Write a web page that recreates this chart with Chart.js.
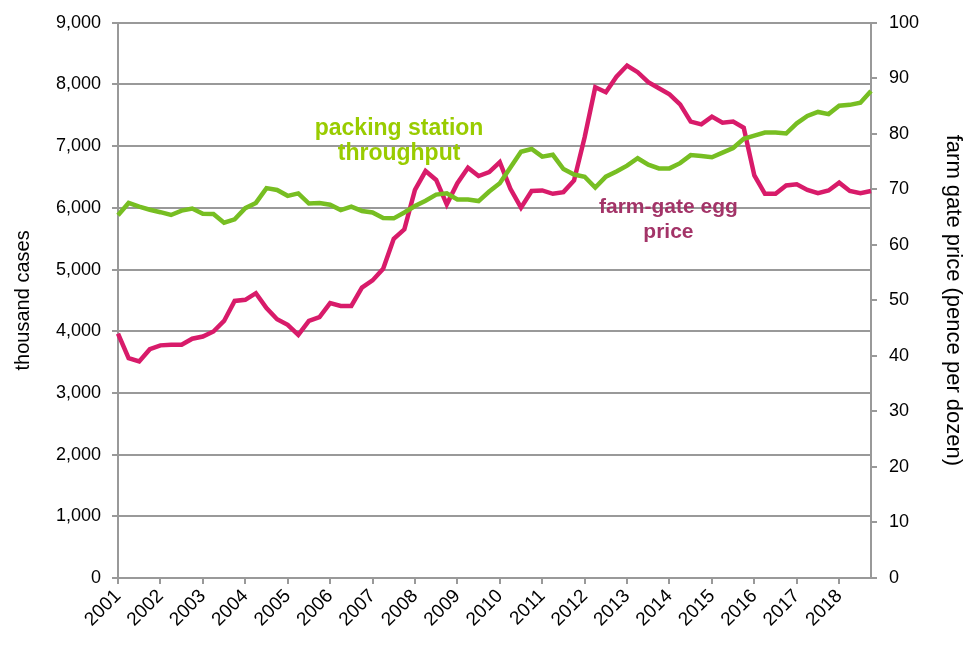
<!DOCTYPE html>
<html>
<head>
<meta charset="utf-8">
<script src="https://cdn.jsdelivr.net/npm/chart.js@4/dist/chart.umd.min.js"></script>
<style>
  html, body { margin: 0; padding: 0; background: #fff; }
  #wrap { width: 966px; height: 646px; position: relative; }
</style>
</head>
<body>
<div id="wrap"><canvas id="eggChart" width="966" height="646"></canvas></div>
<script>
// Years on the axis, data is quarterly (Q1 2001 - Q4 2018)
const years = ['2001', '2002', '2003', '2004', '2005', '2006', '2007', '2008', '2009',
               '2010', '2011', '2012', '2013', '2014', '2015', '2016', '2017', '2018'];
const quarterNames = ['Q1', 'Q2', 'Q3', 'Q4'];

// Packing station throughput (thousand cases)
const throughput = [
    5880, 6080, 6020, 5970, 5930, 5885, 5955, 5990, 5905, 5900, 5760, 5815,
    5995, 6080, 6320, 6290, 6195, 6235, 6070, 6080, 6050, 5965, 6020, 5950,
    5925, 5835, 5830, 5925, 6030, 6115, 6215, 6235, 6135, 6135, 6110, 6265,
    6400, 6655, 6910, 6955, 6830, 6860, 6630, 6540, 6505, 6330, 6505, 6590,
    6685, 6805, 6700, 6640, 6640, 6725, 6855, 6840, 6820, 6895, 6970, 7120,
    7170, 7220, 7220, 7205, 7370, 7490, 7555, 7520, 7655, 7670, 7705, 7895
];

// Farm-gate egg price (pence per dozen)
const eggPrice = [
    44.0, 39.6, 39.0, 41.2, 41.9, 42.0, 42.0, 43.1, 43.5, 44.4, 46.3, 49.9,
    50.1, 51.3, 48.6, 46.6, 45.6, 43.8, 46.3, 47.0, 49.5, 49.0, 49.0, 52.3,
    53.6, 55.7, 61.1, 62.8, 69.9, 73.3, 71.7, 67.3, 71.1, 73.9, 72.4, 73.1,
    74.9, 70.1, 66.7, 69.7, 69.8, 69.2, 69.5, 71.6, 79.4, 88.4, 87.5, 90.3,
    92.3, 91.1, 89.3, 88.2, 87.1, 85.3, 82.2, 81.7, 83.1, 82.0, 82.2, 81.1,
    72.5, 69.2, 69.2, 70.7, 70.9, 69.9, 69.3, 69.8, 71.2, 69.7, 69.3, 69.7
];

// Quarter labels built from the years
const quarters = [];
years.forEach(function(y) {
    quarterNames.forEach(function(q) { quarters.push(y + ' ' + q); });
});

const GRID = '#999999';
const FONT = "'Liberation Sans', Arial, sans-serif";

// Inline series labels, anchored in data coordinates
const seriesLabels = {
    id: 'seriesLabels',
    afterDraw(chart) {
        const ctx = chart.ctx;
        const x = chart.scales.x, yL = chart.scales.y, yR = chart.scales.y2;
        ctx.save();
        ctx.textAlign = 'center';
        ctx.textBaseline = 'middle';
        ctx.font = 'bold 23px ' + FONT;
        ctx.fillStyle = '#99cc00';
        ctx.fillText('packing station', x.getPixelForValue(26.5), yL.getPixelForValue(7280));
        ctx.fillText('throughput', x.getPixelForValue(26.5), yL.getPixelForValue(6875));
        ctx.font = 'bold 21px ' + FONT;
        ctx.fillStyle = '#a33468';
        ctx.fillText('farm-gate egg', x.getPixelForValue(51.9), yR.getPixelForValue(66.7));
        ctx.fillText('price', x.getPixelForValue(51.9), yR.getPixelForValue(62.2));
        ctx.restore();
    }
};

document.addEventListener('DOMContentLoaded', function() {
    const ctx = document.getElementById('eggChart').getContext('2d');
    new Chart(ctx, {
        type: 'line',
        data: {
            labels: quarters,
            datasets: [{
                label: 'packing station throughput',
                data: throughput,
                yAxisID: 'y',
                borderColor: '#77be22',
                borderWidth: 4.5,
                pointRadius: 0,
                tension: 0,
                fill: false
            }, {
                label: 'farm-gate egg price',
                data: eggPrice,
                yAxisID: 'y2',
                borderColor: '#d81b6a',
                borderWidth: 4.5,
                pointRadius: 0,
                tension: 0,
                fill: false
            }]
        },
        options: {
            responsive: false,
            animation: false,
            layout: { padding: { left: 0, right: 0, top: 21, bottom: 0 } },
            plugins: {
                legend: { display: false },
                tooltip: { enabled: false }
            },
            scales: {
                x: {
                    offset: false,
                    afterFit: function(s) { s.height = 68; },
                    grid: { drawOnChartArea: false, color: GRID, lineWidth: 2, tickLength: 6 },
                    border: { color: GRID, width: 2 },
                    ticks: {
                        autoSkip: false,
                        maxRotation: 45,
                        minRotation: 45,
                        padding: 1,
                        color: '#000',
                        font: { family: FONT, size: 19 },
                        callback: function(val, idx) {
                            return idx % 4 === 0 ? years[idx / 4] : null;
                        }
                    }
                },
                y: {
                    position: 'left',
                    min: 0,
                    max: 9000,
                    afterFit: function(s) { s.width = 118; },
                    grid: { color: GRID, lineWidth: 2, tickLength: 6 },
                    border: { color: GRID, width: 2 },
                    ticks: {
                        stepSize: 1000,
                        padding: 11,
                        color: '#000',
                        font: { family: FONT, size: 18 },
                        callback: function(v) { return v.toLocaleString('en-US'); }
                    },
                    title: {
                        display: true,
                        text: 'thousand cases',
                        color: '#000',
                        font: { family: FONT, size: 20 },
                        padding: { top: 11, bottom: 0 }
                    }
                },
                y2: {
                    position: 'right',
                    min: 0,
                    max: 100,
                    afterFit: function(s) { s.width = 95; },
                    grid: { drawOnChartArea: false, color: GRID, lineWidth: 2, tickLength: 6 },
                    border: { color: GRID, width: 2 },
                    ticks: {
                        stepSize: 10,
                        padding: 12,
                        color: '#000',
                        font: { family: FONT, size: 18 }
                    },
                    title: {
                        display: true,
                        text: 'farm gate price (pence per dozen)',
                        color: '#000',
                        font: { family: FONT, size: 22 },
                        padding: { top: 0, bottom: 0 }
                    }
                }
            }
        },
        plugins: [seriesLabels]
    });
});
</script>
</body>
</html>
